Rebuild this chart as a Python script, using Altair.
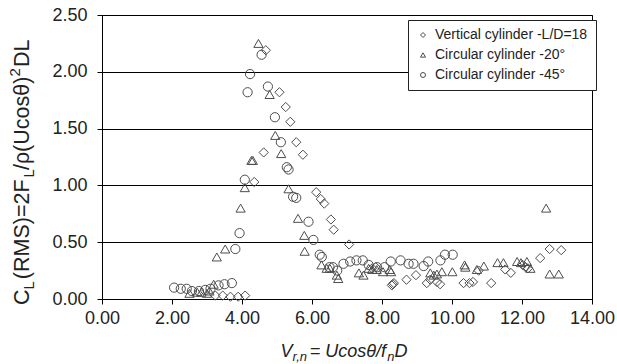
import altair as alt
import pandas as pd

# Lift coefficient (RMS) against reduced velocity for three test cases
series_names = ["Vertical cylinder -L/D=18", "Circular cylinder -20°", "Circular cylinder -45°"]
series_shapes = ["diamond", "triangle-up", "circle"]

vert_x = [3.24, 3.45, 3.67, 3.89, 4.09, 4.35, 4.62, 4.68, 5.07, 5.25, 5.38, 5.55, 5.74,
          6.12, 6.25, 6.35, 6.54, 6.62, 7.06, 7.72, 7.82, 8.28, 8.31, 8.34, 8.70, 8.97,
          9.28, 9.38, 9.57, 9.66, 10.33, 10.50, 10.60, 10.76, 11.12, 11.52, 11.68, 12.02,
          12.10, 12.17, 12.52, 12.79, 13.12]
vert_y = [0.03, 0.03, 0.02, 0.02, 0.03, 1.03, 1.29, 2.19, 1.82, 1.69, 1.56, 1.38, 1.27,
          0.94, 0.88, 0.84, 0.70, 0.61, 0.48, 0.27, 0.28, 0.12, 0.13, 0.14, 0.17, 0.21,
          0.14, 0.17, 0.15, 0.13, 0.14, 0.14, 0.15, 0.25, 0.14, 0.26, 0.23, 0.30,
          0.28, 0.27, 0.36, 0.44, 0.43]

c20_x = [2.50, 2.72, 2.84, 3.00, 3.07, 3.19, 3.28, 3.52, 3.96, 4.08, 4.27, 4.31, 4.47,
         4.79, 4.95, 5.12, 5.33, 5.60, 5.78, 5.79, 6.27, 6.42, 6.51, 6.71, 6.75, 7.34,
         7.47, 7.62, 7.72, 7.85, 8.03, 8.22, 8.26, 9.38, 9.48, 9.57, 9.71, 10.01, 10.36,
         10.38, 10.71, 10.91, 11.30, 11.47, 11.86, 11.97, 12.14, 12.24, 12.69, 12.79, 13.05]
c20_y = [0.05, 0.06, 0.06, 0.05, 0.07, 0.13, 0.37, 0.44, 0.80, 0.98, 1.22, 1.22, 2.25,
         1.80, 1.44, 1.28, 0.97, 0.71, 0.56, 0.42, 0.30, 0.27, 0.27, 0.21, 0.18, 0.23,
         0.21, 0.27, 0.26, 0.26, 0.24, 0.26, 0.24, 0.23, 0.21, 0.22, 0.24, 0.24, 0.30,
         0.28, 0.26, 0.29, 0.32, 0.32, 0.33, 0.32, 0.33, 0.27, 0.80, 0.22, 0.22]

c45_x = [2.06, 2.25, 2.42, 2.57, 2.77, 2.95, 3.10, 3.33, 3.50, 3.71, 3.81, 3.93, 4.08,
         4.16, 4.23, 4.56, 4.74, 4.94, 5.11, 5.28, 5.33, 5.46, 5.55, 5.90, 6.04, 6.22,
         6.28, 6.50, 6.60, 6.72, 6.90, 7.09, 7.27, 7.45, 7.62, 7.86, 8.07, 8.25, 8.53,
         8.76, 8.90, 9.19, 9.32, 9.67, 9.80, 10.02]
c45_y = [0.10, 0.09, 0.09, 0.07, 0.07, 0.08, 0.09, 0.12, 0.13, 0.14, 0.44, 0.58, 1.05,
         1.82, 1.98, 2.15, 1.87, 1.60, 1.38, 1.16, 1.14, 0.90, 0.89, 0.68, 0.52, 0.39,
         0.37, 0.28, 0.28, 0.25, 0.31, 0.33, 0.34, 0.34, 0.30, 0.28, 0.28, 0.33, 0.34,
         0.31, 0.31, 0.29, 0.33, 0.34, 0.39, 0.39]

x_ticks = [0, 2, 4, 6, 8, 10, 12, 14]
y_ticks = [0.0, 0.5, 1.0, 1.5, 2.0, 2.5]

rows = []
for name, xs, ys in zip(series_names, [vert_x, c20_x, c45_x], [vert_y, c20_y, c45_y]):
    rows += [{"series": name, "vr": a, "cl": b} for a, b in zip(xs, ys)]
df = pd.DataFrame(rows)

W, H = 490, 284
FONT = "Liberation Sans"
INK = "#222222"
MARK = "#4d4d4d"

points = alt.Chart(df).mark_point(
    filled=False, size=85, strokeWidth=1, color=MARK, opacity=1
).encode(
    x=alt.X("vr:Q", scale=alt.Scale(domain=[0, 14], nice=False),
            axis=alt.Axis(values=x_ticks, format=".2f", title=None, grid=False,
                          labelFontSize=18, labelPadding=5, tickSize=5,
                          labelFlush=False)),
    y=alt.Y("cl:Q", scale=alt.Scale(domain=[0, 2.5], nice=False),
            axis=alt.Axis(values=y_ticks, format=".2f", title=None, grid=True,
                          gridColor="black", gridWidth=1, gridOpacity=1,
                          labelFontSize=18, labelPadding=10, tickSize=5,
                          labelFlush=False)),
    shape=alt.Shape("series:N", scale=alt.Scale(domain=series_names, range=series_shapes),
                    legend=alt.Legend(orient="none", legendX=306, legendY=5, title=None,
                                      fillColor="white", strokeColor=INK, padding=8,
                                      rowPadding=6, labelFontSize=14, labelFont=FONT,
                                      labelColor=INK, symbolSize=25, labelOffset=5,
                                      symbolStrokeColor=MARK, symbolFillColor="white",
                                      symbolStrokeWidth=1)),
)

# Arial/Liberation Sans advance widths (1/1000 em) for the axis title glyphs
ADV = {' ': 278, '(': 333, ')': 333, '=': 584, '/': 278, ',': 278, '2': 556, 'C': 722,
       'D': 722, 'F': 611, 'L': 556, 'M': 833, 'R': 722, 'S': 667, 'U': 722, 'V': 667,
       'c': 500, 'o': 556, 's': 500, 'n': 556, 'r': 333, 'f': 278, 'θ': 556, 'ρ': 578}


def advance(s, size):
    return sum(ADV[ch] for ch in s) * size / 1000.0


def piece(text, size, x, y, angle=0, italic=False):
    return alt.Chart(pd.DataFrame({"t": [text]})).mark_text(
        align="left", baseline="alphabetic", font=FONT, fontSize=size, color=INK,
        angle=angle, fontStyle="italic" if italic else "normal"
    ).encode(x=alt.value(x), y=alt.value(y), text="t:N")


# y title: C_L (RMS)=2F_L/rho(U cos theta)^2 DL, read bottom to top
big, small = 21.5, 15
y_parts = [("C", big, 0, 0), ("L", small, 5, 2), (" (RMS)=2F", big, 0, -4), ("L", small, 5, -1),
           ("/ρ(Ucosθ)", big, 0, 0), ("2", small, -9, 1), ("DL", big, 0, 0)]
y_base_x = -73
pos = 290
y_layers = []
for s, f, shift, gap in y_parts:
    y_layers.append(piece(s, f, y_base_x + shift, pos, angle=270))
    pos -= advance(s, f) + gap

# x title: V_r,n = U cos theta / f_n D
xbig, xsmall = 18, 13
x_parts = [("V", xbig, 0, 0), ("r,n", xsmall, 4, 2), (" = Ucosθ/f", xbig, 0, -4),
           ("n", xsmall, 4, 0), ("D", xbig, 0, 0)]
x_len = sum(advance(s, f) + g for s, f, _, g in x_parts)
xpos = 242 - x_len / 2
x_layers = []
for s, f, shift, gap in x_parts:
    x_layers.append(piece(s, f, xpos, 342 + shift, italic=True))
    xpos += advance(s, f) + gap

chart = alt.layer(points, *y_layers, *x_layers).properties(
    width=W, height=H,
    autosize=alt.AutoSizeParams(type="none"),
    padding={"left": 102, "top": 15, "right": 25, "bottom": 65},
).configure_view(
    stroke="black", strokeWidth=1
).configure_axis(
    labelFont=FONT, labelColor=INK, domainColor="black", domainWidth=1,
    tickColor="black", tickWidth=1
)

chart.save("out.html", embed_options={"renderer": "svg", "actions": False})
